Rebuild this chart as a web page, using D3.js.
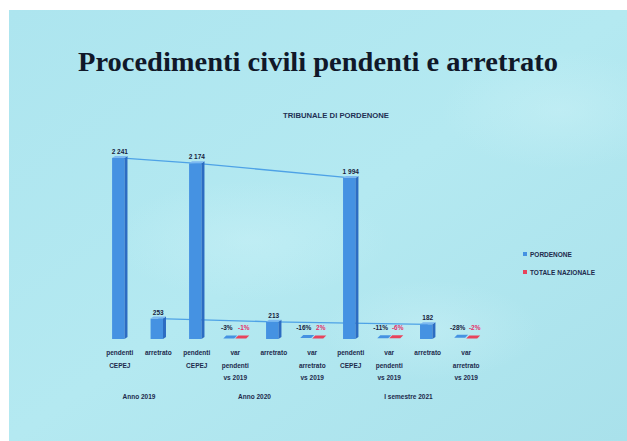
<!DOCTYPE html>
<html>
<head>
<meta charset="utf-8">
<script src="https://cdn.jsdelivr.net/npm/d3@7"></script>
<style>
  body { margin: 0; background: #fff; }
  text { font-family: "Liberation Sans Narrow", "Liberation Sans", Arial, sans-serif; }
</style>
</head>
<body>
<svg id="chart"></svg>
<script>
// chart values
const categories = ['pendenti CEPEJ', 'arretrato', 'pendenti CEPEJ', 'var pendenti vs 2019', 'arretrato',
    'var arretrato vs 2019', 'pendenti CEPEJ', 'var pendenti vs 2019', 'arretrato', 'var arretrato vs 2019'];
const categoryLines = [['pendenti', 'CEPEJ'], ['arretrato'], ['pendenti', 'CEPEJ'], ['var', 'pendenti', 'vs 2019'],
    ['arretrato'], ['var', 'arretrato', 'vs 2019'], ['pendenti', 'CEPEJ'], ['var', 'pendenti', 'vs 2019'],
    ['arretrato'], ['var', 'arretrato', 'vs 2019']];
const periods = ['Anno 2019', 'Anno 2020', 'I semestre 2021'];
const periodOf = [0, 0, 1, 1, 1, 1, 2, 2, 2, 2];
const counts = [2241, 253, 2174, null, 213, null, 1994, null, 182, null];
const varPordenone = [null, null, null, -3, null, -16, null, -11, null, -28];
const varNazionale = [null, null, null, -1, null, 2, null, -6, null, -2];
const seriesNames = ['PORDENONE', 'TOTALE NAZIONALE'];
const pendentiIdx = [0, 2, 6];
const arretratoIdx = [1, 4, 8];

const width = 627, height = 441;
const blue = '#4592e2', blueSide = '#2c6cc2', blueTop = '#7cb8f0', red = '#e8435c';
const navy = '#17223c';

const svg = d3.select('#chart').attr('width', width).attr('height', height);

// background of the photographed slide
const defs = svg.append('defs');
const lg = defs.append('linearGradient').attr('id', 'bg').attr('x1', 0).attr('y1', 0).attr('x2', 1).attr('y2', 1);
lg.append('stop').attr('offset', '0%').attr('stop-color', '#ade5ef');
lg.append('stop').attr('offset', '50%').attr('stop-color', '#b4e9f1');
lg.append('stop').attr('offset', '100%').attr('stop-color', '#a9e1eb');
const rg = defs.append('radialGradient').attr('id', 'wisp');
rg.append('stop').attr('offset', '0%').attr('stop-color', '#cdf2f7').attr('stop-opacity', 0.45);
rg.append('stop').attr('offset', '100%').attr('stop-color', '#cdf2f7').attr('stop-opacity', 0);

svg.append('rect').attr('x', 9).attr('y', 10).attr('width', width - 9).attr('height', height - 10).attr('fill', 'url(#bg)');
[[560, 110, 120, 60], [250, 240, 140, 60], [430, 330, 110, 50]].forEach(w => {
    svg.append('ellipse').attr('cx', w[0]).attr('cy', w[1]).attr('rx', w[2]).attr('ry', w[3]).attr('fill', 'url(#wisp)');
});

// titles
svg.append('text')
    .attr('x', 318).attr('y', 71)
    .attr('text-anchor', 'middle')
    .attr('textLength', 480).attr('lengthAdjust', 'spacingAndGlyphs')
    .style('font-family', '"Liberation Serif", "DejaVu Serif", serif')
    .style('font-size', '28px').style('font-weight', 'bold')
    .attr('fill', '#101829')
    .text('Procedimenti civili pendenti e arretrato');

svg.append('text')
    .attr('x', 336).attr('y', 118)
    .attr('text-anchor', 'middle')
    .attr('textLength', 106).attr('lengthAdjust', 'spacingAndGlyphs')
    .style('font-size', '7px').style('font-weight', 'bold')
    .attr('fill', '#1f3054')
    .text('TRIBUNALE DI PORDENONE');

// scales
const ids = categories.map((d, i) => i);
const xScale = d3.scaleBand().domain(ids).range([89, 497]).padding(0.6);
const yScale = d3.scaleLinear().domain([0, 2500]).range([339, 137]);
const subScale = d3.scaleBand().domain(seriesNames).range([-12, 12]).padding(0);
const labelScale = d3.scaleBand().domain(seriesNames).range([-17, 17]).padding(0);
const fmt = d3.formatLocale({ decimal: ',', thousands: ' ', grouping: [3], currency: ['', '€'] }).format(',d');

const chart = svg.append('g');
const cx = i => xScale(i) + xScale.bandwidth() / 2;
const depth = 3;

// connecting lines between the totals
const line = d3.line().x(i => cx(i)).y(i => yScale(counts[i]));
[pendentiIdx, arretratoIdx].forEach(idx => {
    chart.append('path').attr('d', line(idx))
        .attr('fill', 'none').attr('stroke', '#4ea2e6').attr('stroke-width', 1.3);
});

// 3d count bars
const barIdx = ids.filter(i => counts[i] !== null);
const bars = chart.selectAll('.bar').data(barIdx).join('g').attr('class', 'bar');
bars.each(function(i) {
    const g = d3.select(this);
    const x0 = xScale(i), w = xScale.bandwidth() - depth;
    const top = yScale(counts[i]), base = yScale(0);
    g.append('rect').attr('x', x0).attr('y', top).attr('width', w).attr('height', base - top).attr('fill', blue);
    g.append('polygon').attr('fill', blueSide)
        .attr('points', [[x0 + w, top], [x0 + w + depth, top - 2], [x0 + w + depth, base - 2], [x0 + w, base]].join(' '));
    g.append('polygon').attr('fill', blueTop)
        .attr('points', [[x0, top], [x0 + depth, top - 2], [x0 + w + depth, top - 2], [x0 + w, top]].join(' '));
});
chart.selectAll('.count-label').data(barIdx).join('text')
    .attr('class', 'count-label')
    .attr('x', i => cx(i)).attr('y', i => yScale(counts[i]) - 4)
    .attr('text-anchor', 'middle')
    .style('font-size', '6.5px').style('font-weight', 'bold')
    .attr('fill', navy)
    .text(i => fmt(counts[i]));

// variation bars (percent values, flat against the count axis)
const varIdx = ids.filter(i => varPordenone[i] !== null);
const varRows = [];
varIdx.forEach(i => {
    varRows.push({ i, s: seriesNames[0], v: varPordenone[i], color: blue, labelColor: navy });
    varRows.push({ i, s: seriesNames[1], v: varNazionale[i], color: red, labelColor: '#e5306a' });
});
const varScale = d3.scaleLinear().domain([0, 100]).range([0, 3]);
chart.selectAll('.var-bar').data(varRows).join('polygon')
    .attr('class', 'var-bar')
    .attr('fill', d => d.color)
    .attr('points', d => {
        const x0 = cx(d.i) + subScale(d.s), w = subScale.bandwidth() - 1;
        const base = yScale(0) - varScale(Math.abs(d.v)) - 0.5;
        return [[x0, base], [x0 + depth, base - 3], [x0 + w + depth, base - 3], [x0 + w, base]].join(' ');
    });
chart.selectAll('.var-label').data(varRows).join('text')
    .attr('class', 'var-label')
    .attr('x', d => cx(d.i) + labelScale(d.s) + labelScale.bandwidth() / 2)
    .attr('y', 330)
    .attr('text-anchor', 'middle')
    .style('font-size', '6.5px').style('font-weight', 'bold')
    .attr('fill', d => d.labelColor)
    .text(d => d.v + '%');

// category axis labels
const axisG = svg.append('g');
ids.forEach(i => {
    const t = axisG.append('text')
        .attr('x', cx(i)).attr('y', 355)
        .attr('text-anchor', 'middle')
        .style('font-size', '6.5px').style('font-weight', 'bold')
        .attr('fill', '#1d2a4c');
    categoryLines[i].forEach((ln, k) => {
        t.append('tspan').attr('x', cx(i)).attr('dy', k === 0 ? 0 : 12.5).text(ln);
    });
});
periods.forEach((p, k) => {
    const members = ids.filter(i => periodOf[i] === k);
    const mid = (cx(members[0]) + cx(members[members.length - 1])) / 2;
    axisG.append('text')
        .attr('x', mid).attr('y', 399)
        .attr('text-anchor', 'middle')
        .style('font-size', '6.5px').style('font-weight', 'bold')
        .attr('fill', '#1d2a4c')
        .text(p);
});

// legend
const legend = svg.append('g').attr('transform', 'translate(523,252)');
const entry = legend.selectAll('.legend-entry').data(seriesNames).join('g')
    .attr('class', 'legend-entry')
    .attr('transform', (d, k) => `translate(0,${k * 18})`);
entry.append('rect').attr('width', 4).attr('height', 4).attr('fill', (d, k) => k === 0 ? blue : red);
entry.append('text').attr('x', 7).attr('y', 4.5)
    .style('font-size', '6.5px').style('font-weight', 'bold')
    .attr('fill', '#1d2a4c')
    .text(d => d);
</script>
</body>
</html>
